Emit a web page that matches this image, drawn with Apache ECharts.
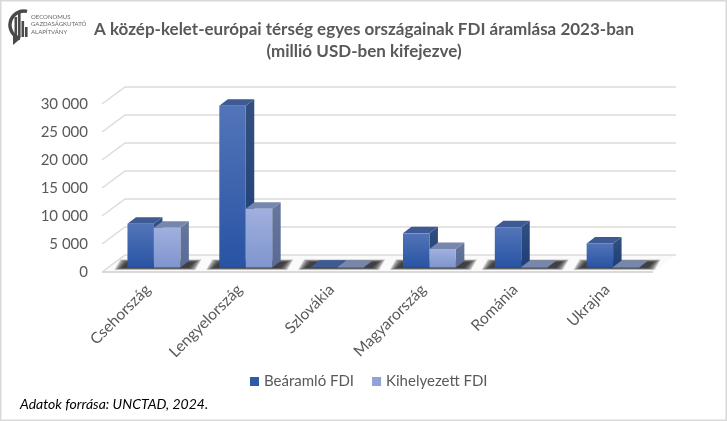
<!DOCTYPE html>
<html><head><meta charset="utf-8">
<script src="https://cdn.jsdelivr.net/npm/echarts@6/dist/echarts.min.js"></script>
<style>html,body{margin:0;padding:0;background:#fff}#c{width:727px;height:421px}</style></head>
<body><div id="c"></div>
<script>
const categories = ['Csehország','Lengyelország','Szlovákia','Magyarország','Románia','Ukrajna'];
const inflow  = [7800, 28900, 150, 6100, 7200, 4300];
const outflow = [7100, 10500, 100, 3300, 100, 100];
const yTicks = [0,5000,10000,15000,20000,25000,30000];
const titleLines = 'A közép-kelet-európai térség egyes országainak FDI áramlása 2023-ban\n(millió USD-ben kifejezve)';
const sourceText = 'Adatok forrása: UNCTAD, 2024.';
const logoLines = 'OECONOMUS\nGAZDASÁGKUTATÓ\nALAPÍTVÁNY';
const FONT = 'Lato, "Open Sans", sans-serif';
const WALL = {dx:23, dy:-17};
const BAR = {dx:8.5, dy:-6.5, sx:6, sy:-4.5, frac:0.288};
function grad(a,b){return new echarts.graphic.LinearGradient(0,0,0,1,[{offset:0,color:a},{offset:1,color:b}]);}
function poly(pts,fill,extra){return Object.assign({type:'polygon',shape:{points:pts},style:{fill:fill}},extra||{});}

function barRender(side, cols){
  return function(p, api){
    const cat = api.value(0), v = api.value(1);
    const base = api.coord([cat,0]), top = api.coord([cat,v]);
    const w = api.size([1,0])[0]*BAR.frac;
    const x0 = base[0]+BAR.sx+(side===0?-w:0), x1 = x0+w;
    const yb = base[1]+BAR.sy, yt = top[1]+BAR.sy;
    const d = BAR.dx, e = BAR.dy;
    return {type:'group',children:[
      poly([[x1,yt],[x1+d,yt+e],[x1+d,yb+e],[x1,yb]],grad(cols.side0,cols.side1)),
      poly([[x0,yt],[x0+d,yt+e],[x1+d,yt+e],[x1,yt]],cols.top),
      {type:'rect',shape:{x:x0,y:yt,width:w,height:yb-yt},style:{fill:grad(cols.f0,cols.f1)}}
    ]};
  };
}
const chart = echarts.init(document.getElementById('c'),null,{renderer:'canvas'});
chart.setOption({
  animation:false,
  backgroundColor:'#fff',
  title:{text:titleLines,left:359,top:14,textAlign:'center',
    textStyle:{fontFamily:FONT,fontWeight:'bold',fontSize:17,lineHeight:21.5,color:'#595959'}},
  grid:{left:102,right:74,top:104,bottom:149,containLabel:false},
  legend:{left:245,top:369,itemWidth:9,itemHeight:9,itemGap:18,icon:'rect',
    textStyle:{fontFamily:FONT,fontSize:15,color:'#595959'},
    data:['Beáramló FDI','Kihelyezett FDI']},
  xAxis:{type:'category',data:categories,
    axisLine:{show:false},axisTick:{show:false},splitLine:{show:false},
    axisLabel:{rotate:45,interval:0,margin:15,fontFamily:FONT,fontSize:15.5,color:'#595959'}},
  yAxis:{type:'value',min:0,max:30000,interval:5000,
    axisLine:{show:false},axisTick:{show:false},splitLine:{show:false},
    axisLabel:{margin:14,fontFamily:FONT,fontSize:15,color:'#595959',padding:[3,0,0,0],
      formatter:v=>String(v).replace(/\B(?=(\d{3})+$)/g,' ')}},
  series:[
    {type:'custom',name:'wall',coordinateSystem:'cartesian2d',silent:true,z:1,
     data:yTicks.map(t=>[0,t]),encode:{x:0,y:1},
     renderItem(p,api){
       const cs=p.coordSys, y=api.coord([0,api.value(1)])[1], l=cs.x, r=cs.x+cs.width;
       const ln={stroke:'#dcdcdc',lineWidth:1.5,fill:null};
       const kids=[{type:'polyline',shape:{points:[[l,y],[l+WALL.dx,y+WALL.dy],[r+WALL.dx,y+WALL.dy]]},style:ln}];
       if(api.value(1)===0){
         kids.unshift(poly([[l,y],[l+WALL.dx,y+WALL.dy],[r+WALL.dx,y+WALL.dy],[r,y]],'#fafafa'));
         kids.push({type:'line',shape:{x1:l,y1:y,x2:r,y2:y},style:{stroke:'#d9d9d9',lineWidth:1.8}});
       }
       return {type:'group',children:kids};
     }},
    {type:'custom',name:'shadow',coordinateSystem:'cartesian2d',silent:true,z:2,
     data:categories.map((c,i)=>[i,0]),encode:{x:0,y:1},
     renderItem(p,api){
       const b=api.coord([api.value(0),0]), w=api.size([1,0])[0]*BAR.frac;
       const y=b[1]+BAR.sy, x=b[0]+BAR.sx;
       const kids=[];
       for(let g=5;g>=0;g--){
         kids.push(poly([[x-w-6-g*1.4,y+0.5+g*0.35],[x-w-g*1.4,y-5.5-g*0.5],[x+w+14+g*1.4,y-5.5-g*0.5],[x+w+8+g*1.4,y+0.5+g*0.35]],'rgba(20,20,20,0.24)'));
       }
       return {type:'group',children:kids};
     }},
    {type:'custom',name:'Beáramló FDI',coordinateSystem:'cartesian2d',z:3,
     itemStyle:{color:'#2f5aa8'},
     data:inflow.map((v,i)=>[i,v]),encode:{x:0,y:1},
     renderItem:barRender(0,{f0:'#5375b8',f1:'#2853a4',top:'#3d5a94',side0:'#33507f',side1:'#1f3d78'})},
    {type:'custom',name:'Kihelyezett FDI',coordinateSystem:'cartesian2d',z:4,
     itemStyle:{color:'#8ea3d8'},
     data:outflow.map((v,i)=>[i,v]),encode:{x:0,y:1},
     renderItem:barRender(1,{f0:'#a0b0de',f1:'#7f95cf',top:'#7687ae',side0:'#67769c',side1:'#586a96'})}
  ],
  graphic:[
    {type:'rect',z:100,silent:true,shape:{x:0.5,y:0.5,width:726,height:420},style:{fill:null,stroke:'#d9d9d9',lineWidth:2}},
    {type:'group',z:50,silent:true,children:[
      {type:'arc',shape:{cx:24,cy:25,r:14,startAngle:-1.35,endAngle:1.85,clockwise:false},style:{stroke:'#4a4a4a',fill:null,lineWidth:3.5}},
      {type:'polygon',shape:{points:[[13,35],[20,39],[13,45]]},style:{fill:'#4a4a4a'}},
      {type:'rect',shape:{x:14.5,y:17,width:2.6,height:20},style:{fill:'#4a4a4a'}},
      {type:'rect',shape:{x:18,y:12,width:2.6,height:25},style:{fill:'#4a4a4a'}},
      {type:'rect',shape:{x:21.5,y:21,width:2.6,height:16},style:{fill:'#4a4a4a'}},
      {type:'rect',shape:{x:25,y:27,width:2.6,height:10},style:{fill:'#4a4a4a'}},
      {type:'text',style:{x:31,y:13,text:logoLines,fontFamily:'"Liberation Sans Narrow", Lato, sans-serif',fontSize:6,lineHeight:7.7,fill:'#666'}}
    ]},
    {type:'text',z:50,silent:true,style:{x:20,y:397,text:sourceText,fontFamily:FONT,fontStyle:'italic',fontSize:14,fill:'#000'}}
  ]
});
</script></body></html>
